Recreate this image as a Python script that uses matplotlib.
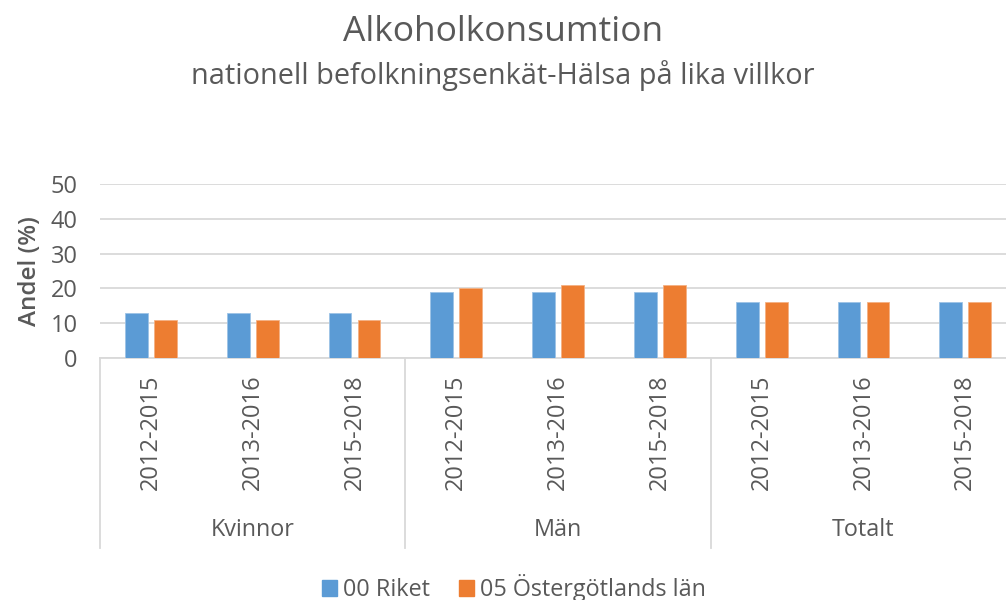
import matplotlib
matplotlib.use('Agg')
import matplotlib.pyplot as plt
import numpy as np
from matplotlib.patches import Patch

plt.rcParams['font.family'] = ['Open Sans', 'DejaVu Sans']

# data
groups = ['Kvinnor', 'Män', 'Totalt']
periods = ['2012-2015', '2013-2016', '2015-2018']
riket = [13, 13, 13, 19, 19, 19, 16, 16, 16]
ostergotland = [11, 11, 11, 20, 21, 21, 16, 16, 16]
series_names = ['00 Riket', '05 Östergötlands län']

blue = '#5B9BD5'
orange = '#ED7D31'
text_col = '#595959'
grid_col = '#D9D9D9'

fig = plt.figure(figsize=(10.06, 6.0), dpi=100)
ax = fig.add_axes([100 / 1006, 242 / 600, 906 / 1006, 174 / 600])

n = len(riket)
x = np.arange(n)
w = 0.225
gap = 0.03
ax.bar(x - w / 2 - gap, riket, width=w, color=blue, edgecolor='#9DC3E6', linewidth=0.6, zorder=3)
ax.bar(x + w / 2 + gap, ostergotland, width=w, color=orange, edgecolor='#F4B183', linewidth=0.6, zorder=3)

ax.set_xlim(-0.5, -0.5 + 906 / 101.8)
ax.set_ylim(0, 50)
ax.set_yticks(range(0, 51, 10))
ax.tick_params(axis='y', length=0, labelsize=17, labelcolor=text_col, pad=16)
ax.set_xticks([])
ax.grid(axis='y', color=grid_col, linewidth=1.3, zorder=0)
for s in ['left', 'top', 'right']:
    ax.spines[s].set_visible(False)
ax.spines['bottom'].set_color(grid_col)
ax.spines['bottom'].set_linewidth(1.3)
ax.set_ylabel('Andel (%)', fontsize=17.5, color=text_col, fontweight='semibold', labelpad=6)

# category labels
tr = ax.get_xaxis_transform()
for i in range(n):
    ax.text(x[i], -0.095, periods[i % 3], transform=tr, rotation=90, ha='center', va='top',
            fontsize=17, color=text_col, clip_on=False)
for g, name in enumerate(groups):
    ax.text(3 * g + 1, -0.99, name, transform=tr, ha='center', va='center',
            fontsize=16.8, color=text_col, clip_on=False)
for b in range(4):
    ax.plot([3 * b - 0.5, 3 * b - 0.5], [0, -1.092], transform=tr, color=grid_col,
            linewidth=1.3, clip_on=False)

fig.text(0.5, 1 - 32 / 600, 'Alkoholkonsumtion', ha='center', va='center', fontsize=25.5, color=text_col)
fig.text(0.5, 1 - 76 / 600, 'nationell befolkningsenkät-Hälsa på lika villkor', ha='center', va='center',
         fontsize=20.8, color=text_col)

handles = [Patch(color=blue), Patch(color=orange)]
fig.legend(handles, series_names, loc='center', bbox_to_anchor=(0.511, 1 - 588 / 600), ncol=2,
           frameon=False, fontsize=16.8, labelcolor=text_col, handlelength=0.65, handleheight=0.65,
           handletextpad=0.25, columnspacing=1.25)

fig.savefig('out.png', dpi=100)
